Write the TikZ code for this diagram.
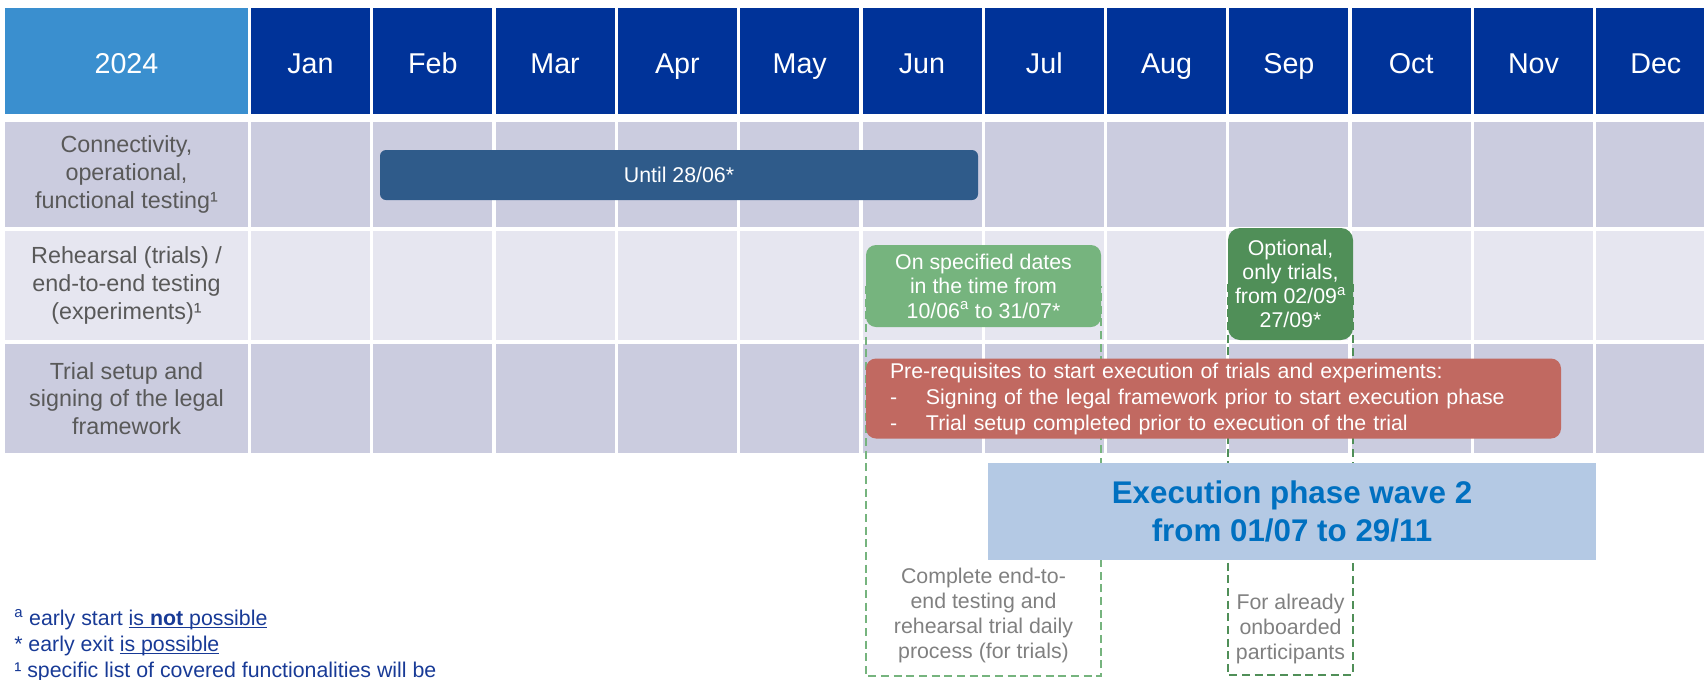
\documentclass[tikz,border=0pt]{standalone}
\usepackage{fontspec}
\setmainfont{Liberation Sans}
\usetikzlibrary{positioning}

\definecolor{headblue}{RGB}{0,51,153}
\definecolor{yearblue}{RGB}{58,143,207}
\definecolor{rowdark}{RGB}{203,204,223}
\definecolor{rowlight}{RGB}{230,230,240}
\definecolor{barblue}{RGB}{47,91,138}
\definecolor{greenlight}{RGB}{118,180,126}
\definecolor{greendark}{RGB}{80,143,88}
\definecolor{prered}{RGB}{193,105,97}
\definecolor{wavefill}{RGB}{180,201,228}
\definecolor{wavetext}{RGB}{0,112,192}
\definecolor{labelgray}{RGB}{89,89,89}
\definecolor{notegray}{RGB}{128,128,128}
\definecolor{footblue}{RGB}{24,58,150}

% underline sitting just below the baseline
\newsavebox{\ulbox}
\newcommand{\undertext}[1]{\sbox{\ulbox}{#1}\rlap{\usebox{\ulbox}}\rule[-1.8pt]{\wd\ulbox}{0.8pt}}

\pgfdeclarelayer{grid}
\pgfdeclarelayer{frames}
\pgfsetlayers{grid,frames,main}

\begin{document}
\begin{tikzpicture}[x=0.75pt, y=-0.75pt,
  cell/.style={inner sep=0pt, minimum width=89.25pt},
  headcell/.style={cell, fill=headblue, text=white, minimum height=79.5pt, text height=18.5pt, text depth=0pt, font=\fontsize{21.5}{25}\selectfont},
  rowlabel/.style={inner sep=0pt, minimum width=182.25pt, align=center, text=labelgray, font=\fontsize{17.5}{20.8}\selectfont},
  bar/.style={inner sep=0pt, text=white, align=center, font=\fontsize{16}{18.4}\selectfont},
  phaseframe/.style={dash pattern=on 6pt off 3.5pt, line width=1.2pt},
  note/.style={inner sep=0pt, align=center, text=notegray, font=\fontsize{16}{18.75}\selectfont}
]
  \useasboundingbox (0,0) rectangle (1704,679);

  % calendar grid
  \begin{pgfonlayer}{grid}
    \node[headcell, fill=yearblue, minimum width=182.25pt] (year) at (126.5,61) {2024};
    \foreach \m [count=\i from 0] in {Jan,Feb,Mar,Apr,May,Jun,Jul,Aug,Sep,Oct,Nov,Dec}
      \node[headcell] (m\i) at ({310.5+122.3*\i},61) {\m};
    \foreach \r/\yc/\h/\shade in {1/174.5/78.75pt/rowdark, 2/285.5/81.75pt/rowlight, 3/398.5/81.75pt/rowdark}
      \foreach \i in {0,...,11}
        \node[cell, fill=\shade, minimum height=\h] (c\r-\i) at ({310.5+122.3*\i},\yc) {};
    \node[rowlabel, fill=rowdark, minimum height=78.75pt] (lbl1) at (126.5,174.5)
      {Connectivity,\\operational,\\functional testing¹};
    \node[rowlabel, fill=rowlight, minimum height=81.75pt] (lbl2) at (126.5,285.5)
      {Rehearsal (trials) /\\end-to-end testing\\(experiments)¹};
    \node[rowlabel, fill=rowdark, minimum height=81.75pt] (lbl3) at (126.5,398.5)
      {Trial setup and\\signing of the legal\\framework};
  \end{pgfonlayer}

  % phases
  \node[bar, fill=barblue, rounded corners=4.5pt, minimum width=448.5pt, minimum height=37.5pt] (connbar) at (679,175) {Until 28/06*};
  \node[bar, fill=greenlight, rounded corners=7.5pt, minimum width=176.25pt, minimum height=61.5pt] (onspec) at (983.5,286)
    {On specified dates\\in the time from\\10/06\textsuperscript{a} to 31/07*};
  \node[bar, fill=greendark, rounded corners=9pt, minimum width=93.75pt, minimum height=84pt, font=\fontsize{16}{18}\selectfont] (optional) at (1290.5,284)
    {Optional,\\only trials,\\from 02/09\textsuperscript{a}\\27/09*};
  \node[bar, fill=prered, rounded corners=7.5pt, inner xsep=18pt, text width=485.25pt, minimum height=60pt, align=left, font=\fontsize{16}{19.5}\selectfont] (prereq) at (1213.5,398.5)
    {Pre-requisites to start execution of trials and experiments:\\
     \makebox[27pt][l]{-}Signing of the legal framework prior to start execution phase\\
     \makebox[27pt][l]{-}Trial setup completed prior to execution of the trial};
  \node[fill=wavefill, text=wavetext, align=center, minimum width=456pt, minimum height=72.75pt, font=\fontsize{23.5}{28.5}\selectfont\bfseries] (wave) at (1292,511.5)
    {Execution phase wave 2\\from 01/07 to 29/11};

  \coordinate (e2ebot) at (983.5,676);
  \coordinate (optbot) at (1290.5,675);
  \begin{pgfonlayer}{frames}
    \draw[phaseframe, greenlight] (onspec.west) |- (e2ebot) -| (onspec.east);
    \draw[phaseframe, greendark] (optional.west) |- (optbot) -| (optional.east);
  \end{pgfonlayer}

  \node[note] (e2enote) at (983.5,615) {Complete end-to-\\end testing and\\rehearsal trial daily\\process (for trials)};
  \node[note] (optnote) at (1290.5,629) {For already\\onboarded\\participants};

  % footnotes
  \node[anchor=north west, inner sep=0pt, align=left, text=footblue, font=\fontsize{16}{19.5}\selectfont] (notes) at (14,609)
    {\textsuperscript{a} early start \undertext{is \textbf{not} possible}\\
     * early exit \undertext{is possible}\\
     ¹ specific list of covered functionalities will be};
\end{tikzpicture}
\end{document}
